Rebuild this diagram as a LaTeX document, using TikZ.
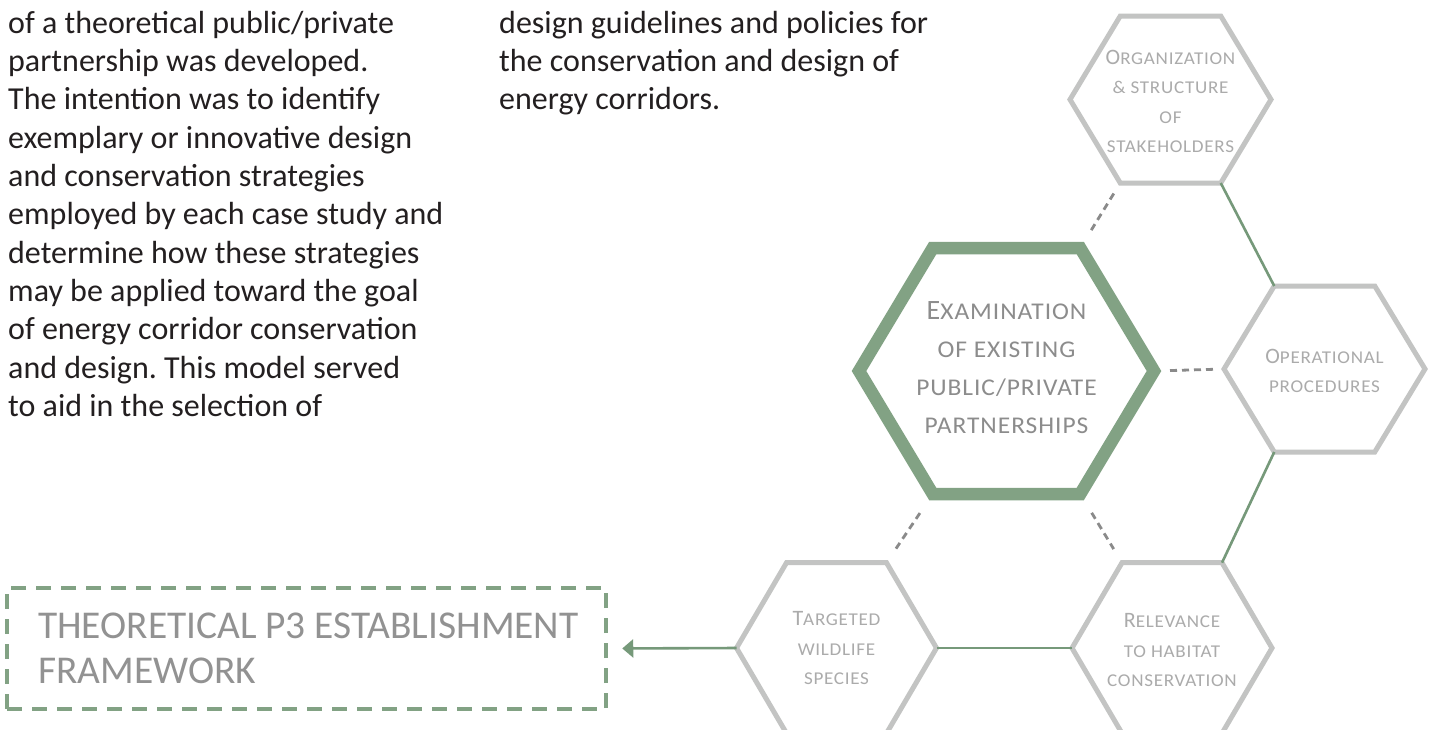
\documentclass[tikz,border=0pt]{standalone}
\usepackage{fontspec}
\setmainfont{Carlito}
\newfontfamily\scwide{Carlito}[FakeStretch=1.06,LetterSpace=4]
\newfontfamily\plainc{Carlito}
\usetikzlibrary{arrows.meta}
\definecolor{sage}{HTML}{82A284}
\definecolor{sageline}{HTML}{76997A}
\definecolor{hexgray}{HTML}{C3C4C3}
\definecolor{labgray}{HTML}{ABABAB}
\definecolor{cengray}{HTML}{8C8C8C}
\definecolor{dashgray}{HTML}{8A8A8A}
\definecolor{bodyink}{HTML}{231F20}
\definecolor{boxtext}{HTML}{929292}
\frenchspacing
\newcommand\BCg[1]{{\plainc\fontsize{22}{29.5}\selectfont #1}}
\newcommand\BCc[1]{{\plainc\fontsize{28}{38}\selectfont #1}}
% name, cx, cy, half width, half height, style
\newcommand\hexpath[6]{%
  \coordinate (#1-c) at (#2,#3);
  \coordinate (#1-r) at ({#2+#4},{#3});
  \coordinate (#1-tr) at ({#2+#4/2},{#3-#5});
  \coordinate (#1-tl) at ({#2-#4/2},{#3-#5});
  \coordinate (#1-l) at ({#2-#4},{#3});
  \coordinate (#1-bl) at ({#2-#4/2},{#3+#5});
  \coordinate (#1-br) at ({#2+#4/2},{#3+#5});
  \draw[#6] (#1-r) -- (#1-tr) -- (#1-tl) -- (#1-l) -- (#1-bl) -- (#1-br) -- cycle;
}
\tikzset{
  body/.style={anchor=base west, inner sep=0pt, text=bodyink, font={\fontsize{32}{38.3}\selectfont}},
  hexlabel/.style={align=center, inner sep=0pt, text=labgray, font={\scwide\fontsize{18}{29.5}\selectfont}},
  cenlabel/.style={align=center, inner sep=0pt, text=cengray, font={\scwide\fontsize{24}{38}\selectfont}},
  grayhex/.style={draw=hexgray, line width=5pt},
  cenhex/.style={draw=sage, line width=12.5pt},
  gline/.style={draw=sageline, line width=2.6pt},
  dline/.style={draw=dashgray, line width=2.8pt, dash pattern=on 7pt off 5pt},
  p3box/.style={draw=sage, line width=4.5pt, dash pattern=on 15pt off 10pt, minimum width=599pt, minimum height=121pt, inner sep=0pt},
  p3text/.style={anchor=west, align=left, inner sep=0pt, text=boxtext, font={\fontsize{39.4}{44.5}\selectfont}}
}
\begin{document}
\begin{tikzpicture}[x=1pt,y=-1pt]
\useasboundingbox (0,0) rectangle (1429,729);
\fill[white] (0,0) rectangle (1429,729);

% body text, column 1
\node[body] (a0) at (8,33.3) {of a theoretical public/private};
\node[body] (a1) at (8,71.6) {partnership was developed.};
\node[body] (a2) at (8,109.9) {The intention was to identify};
\node[body] (a3) at (8,148.2) {exemplary or innovative design};
\node[body] (a4) at (8,186.5) {and conservation strategies};
\node[body] (a5) at (8,224.8) {employed by each case study and};
\node[body] (a6) at (8,263.1) {determine how these strategies};
\node[body] (a7) at (8,301.4) {may be applied toward the goal};
\node[body] (a8) at (8,339.7) {of energy corridor conservation};
\node[body] (a9) at (8,378.0) {and design. This model served};
\node[body] (a10) at (8,416.3) {to aid in the selection of};
% body text, column 2
\node[body] (b0) at (499,33.3) {design guidelines and policies for};
\node[body] (b1) at (499,71.6) {the conservation and design of};
\node[body] (b2) at (499,109.9) {energy corridors.};

% hexagon geometry
\hexpath{org}{1170.5}{99.5}{100.5}{83.5}{grayhex}
\hexpath{op}{1324.5}{369}{100.5}{83}{grayhex}
\hexpath{rel}{1172}{648}{100}{85.3}{grayhex}
\hexpath{tar}{836.5}{648}{100}{85.3}{grayhex}
\hexpath{cen}{1006.5}{371}{147.5}{123}{cenhex}

% box
\node[p3box] (box) at (306.5,648.5) {};
\node[p3text] (boxtxt) at (38,648.5) {THEORETICAL P3 ESTABLISHMENT\\FRAMEWORK};

% solid connectors
\draw[gline] (org-br) -- (op-tl);
\draw[gline] (op-bl) -- (rel-tr);
\draw[gline] (rel-l) -- (tar-r);
\draw[gline, -{Triangle[length=11pt,width=18pt]}, shorten >=14pt] (tar-l) -- (box.east);

% dashed connectors
\draw[dline, shorten <=21pt, shorten >=12pt] (cen-tr) -- (org-bl);
\draw[dline, shorten <=16pt, shorten >=11pt] (cen-r) -- (op-l);
\draw[dline, shorten <=23pt, shorten >=17pt] (cen-bl) -- (tar-tr);
\draw[dline, shorten <=22pt, shorten >=16pt] (cen-br) -- (rel-tl);

% labels
\node[hexlabel] (org) at (1170.5,101.5) {\BCg{O}RGANIZATION\\\& STRUCTURE\\OF\\STAKEHOLDERS};
\node[hexlabel] (op) at (1324.5,371) {\BCg{O}PERATIONAL\\PROCEDURES};
\node[hexlabel] (rel) at (1172,650) {\BCg{R}ELEVANCE\\TO HABITAT\\CONSERVATION};
\node[hexlabel] (tar) at (836.5,648) {\BCg{T}ARGETED\\WILDLIFE\\SPECIES};
\node[cenlabel] (cen) at (1006.5,367.5) {\BCc{E}XAMINATION\\OF EXISTING\\PUBLIC/PRIVATE\\PARTNERSHIPS};
\end{tikzpicture}
\end{document}
